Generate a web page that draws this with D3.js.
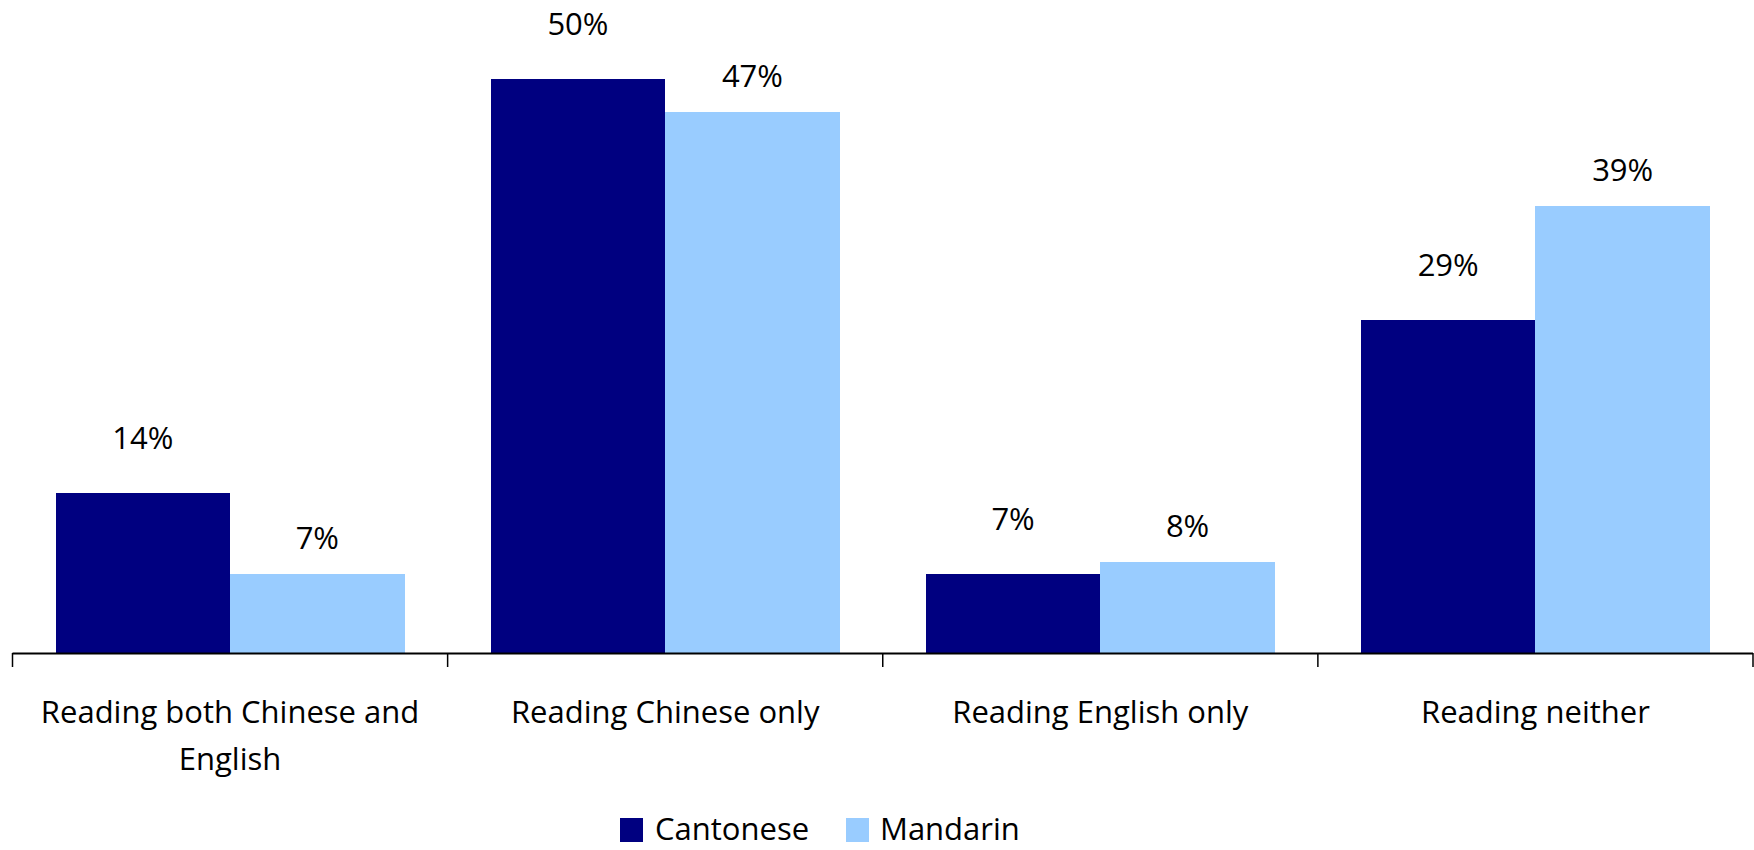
<!DOCTYPE html>
<html>
<head>
<meta charset="utf-8">
<script src="https://cdn.jsdelivr.net/npm/d3@7"></script>
<style>
  html, body { margin: 0; padding: 0; background: #fff; }
  svg { display: block; font-family: "Open Sans", "Noto Sans", sans-serif; }
</style>
</head>
<body>
<svg id="chart" width="1754" height="850"></svg>
<script>
const categories = ["Reading both Chinese and English", "Reading Chinese only", "Reading English only", "Reading neither"];
const seriesNames = ["Cantonese", "Mandarin"];
const cantonese = [13.9, 50.0, 6.9, 29.0];
const mandarin = [6.9, 47.1, 7.9, 38.9];
const colors = ["#000080", "#99CCFF"];

const svg = d3.select("#chart");
const baseY = 653;
const x = d3.scaleBand().domain(categories).range([12.5, 1753]).paddingInner(0).paddingOuter(0);
const bw = x.bandwidth();
const gap = bw * 0.198;
const xs = d3.scaleBand().domain(seriesNames).range([gap / 2, bw - gap / 2]).padding(0);
const y = d3.scaleLinear().domain([0, 50]).range([baseY, 79]);

const data = categories.map((c, i) => ({ cat: c, vals: [cantonese[i], mandarin[i]] }));
const labelOffset = [44, 25];

const groups = svg.selectAll("g.grp").data(data).join("g")
  .attr("class", "grp")
  .attr("transform", d => `translate(${x(d.cat)},0)`);

groups.selectAll("rect").data(d => d.vals.map((v, j) => ({ v, j }))).join("rect")
  .attr("x", d => xs(seriesNames[d.j]))
  .attr("width", xs.bandwidth() + (d => 0)())
  .attr("y", d => y(d.v))
  .attr("height", d => baseY - y(d.v))
  .attr("fill", d => colors[d.j])
  .attr("shape-rendering", "crispEdges");

groups.selectAll("text.val").data(d => d.vals.map((v, j) => ({ v, j }))).join("text")
  .attr("class", "val")
  .attr("x", d => xs(seriesNames[d.j]) + xs.bandwidth() / 2)
  .attr("y", d => y(d.v) - labelOffset[d.j])
  .attr("text-anchor", "middle")
  .attr("font-size", 31)
  .attr("fill", "#000")
  .text(d => Math.round(d.v) + "%");

// axis line and ticks at category boundaries
const axisG = svg.append("g");
axisG.append("line")
  .attr("x1", x.range()[0]).attr("x2", x.range()[1])
  .attr("y1", baseY + 0.5).attr("y2", baseY + 0.5)
  .attr("stroke", "#000").attr("stroke-width", 2);
const tickXs = categories.map(c => x(c)).concat([x.range()[1]]);
axisG.selectAll("line.tick").data(tickXs).join("line")
  .attr("class", "tick")
  .attr("x1", d => d).attr("x2", d => d)
  .attr("y1", baseY).attr("y2", baseY + 14)
  .attr("stroke", "#000").attr("stroke-width", 1.5);

// category labels with wrapping
const maxW = bw - 30;
categories.forEach(c => {
  const t = axisG.append("text")
    .attr("text-anchor", "middle")
    .attr("font-size", 31)
    .attr("fill", "#000");
  const words = c.split(" ");
  let lines = [], cur = [];
  const probe = t.append("tspan");
  words.forEach(w => {
    const test = cur.concat([w]).join(" ");
    probe.text(test);
    if (probe.node().getComputedTextLength() > maxW && cur.length) {
      lines.push(cur.join(" "));
      cur = [w];
    } else cur.push(w);
  });
  lines.push(cur.join(" "));
  probe.remove();
  lines.forEach((ln, k) => {
    t.append("tspan")
      .attr("x", x(c) + bw / 2)
      .attr("y", 723 + k * 47)
      .text(ln);
  });
});

// legend
const legend = svg.append("g");
const legendItems = [{ name: seriesNames[0], sx: 620, tx: 655 }, { name: seriesNames[1], sx: 846, tx: 880 }];
legendItems.forEach((d, i) => {
  legend.append("rect").attr("x", d.sx).attr("y", 818).attr("width", 23).attr("height", 24).attr("fill", colors[i]);
  legend.append("text").attr("x", d.tx).attr("y", 840).attr("font-size", 31).attr("fill", "#000").text(d.name);
});
</script>
</body>
</html>
